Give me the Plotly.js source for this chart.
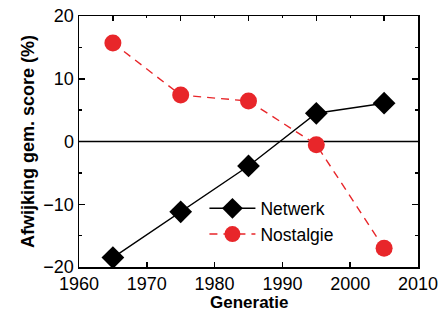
<!DOCTYPE html>
<html><head><meta charset="utf-8">
<script src="https://cdn.plot.ly/plotly-3.0.1.min.js"></script>
<style>body{margin:0;background:#fff}</style>
</head><body><div id="c" style="width:440px;height:311px"></div>
<script>
var generaties = [1965, 1975, 1985, 1995, 2005];
var netwerk = [-18.5, -11.2, -3.9, 4.5, 6.1];
var nostalgie = [15.7, 7.4, 6.45, -0.5, -17.0];
var seriesNames = ['Netwerk', 'Nostalgie'];
var xTitle = 'Generatie';
var yTitle = 'Afwijking gem. score (%)';

var font = 'Liberation Sans, Arial, sans-serif';
var traces = [
  {x: generaties, y: netwerk, name: seriesNames[0], mode: 'lines+markers',
   line: {color: '#000', width: 1.4},
   marker: {symbol: 'diamond', size: 17.5, color: '#000'}},
  {x: generaties, y: nostalgie, name: seriesNames[1], mode: 'lines+markers',
   line: {color: '#e8262a', width: 1.4, dash: '8px,6px'},
   marker: {symbol: 'circle', size: 17, color: '#e8262a'}}
];
var tf = {family: font, size: 18, color: '#000'};
var layout = {
  width: 440, height: 311, paper_bgcolor: '#fff', plot_bgcolor: '#fff',
  margin: {l: 79, r: 22, t: 16, b: 44},
  font: {family: font, color: '#000'},
  showlegend: true,
  legend: {x: 0.37, y: 0.305, xanchor: 'left', yanchor: 'top', bgcolor: 'rgba(0,0,0,0)',
    font: {family: font, size: 17.5, color: '#000'}, tracegroupgap: 0, itemwidth: 46},
  xaxis: {range: [1960, 2010], dtick: 10, tick0: 1960, showgrid: false, zeroline: false,
    showline: true, linecolor: '#000', linewidth: 1.5, mirror: true,
    ticks: 'inside', ticklen: 5, tickwidth: 1.5, tickcolor: '#000', tickfont: tf},
  xaxis2: {range: [1960, 2010], overlaying: 'x', side: 'top', anchor: 'y', dtick: 10, tick0: 1965,
    showgrid: false, zeroline: false, showline: false, showticklabels: false,
    ticks: 'inside', ticklen: 5, tickwidth: 1.5, tickcolor: '#000',
    minor: {dtick: 5, tick0: 1960, ticks: 'inside', ticklen: 2, tickcolor: '#000', tickwidth: 1.2}},
  yaxis: {range: [-20, 20], dtick: 10, showgrid: false, zeroline: false, showline: true,
    linecolor: '#000', linewidth: 1.5, mirror: 'ticks', ticks: 'inside', ticklen: 6,
    tickwidth: 1.5, tickcolor: '#000', tickfont: tf,
    minor: {dtick: 5, ticks: 'inside', ticklen: 3, tickcolor: '#000', tickwidth: 1.5},
    title: {text: '<b>' + yTitle + '</b>', font: {family: font, size: 18, color: '#000'}, standoff: 4}},
  annotations: [{text: '<b>' + xTitle + '</b>', xref: 'paper', yref: 'paper', x: 0.5, y: -0.142,
    xanchor: 'center', yanchor: 'middle', showarrow: false,
    font: {family: font, size: 17, color: '#000'}}],
  shapes: [{type: 'line', xref: 'paper', x0: 0, x1: 1, yref: 'y', y0: 0, y1: 0,
    line: {color: '#000', width: 1.5}, layer: 'below'}]
};
var dummy = {x: [1960], y: [0], xaxis: 'x2', yaxis: 'y', mode: 'markers',
  marker: {opacity: 0}, showlegend: false, hoverinfo: 'skip'};
Plotly.newPlot('c', traces.concat([dummy]), layout, {displayModeBar: false, staticPlot: true});
</script></body></html>
